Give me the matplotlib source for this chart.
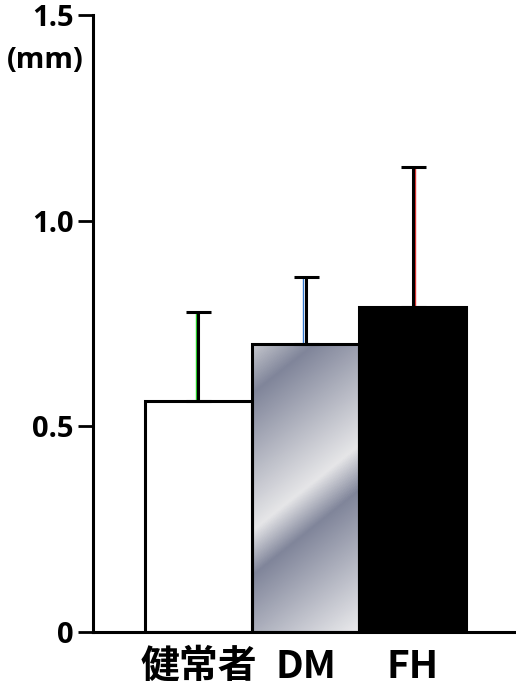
import numpy as np
import matplotlib.pyplot as plt
from matplotlib.colors import LinearSegmentedColormap

# datos
groups = ['健常者', 'DM', 'FH']
means = [0.562, 0.699, 0.791]
upper_err = [0.215, 0.164, 0.339]
err_colors = ['#22cc22', '#3377cc', '#dd3333']
yticks = [0, 0.5, 1.0, 1.5]
ytick_labels = ['0', '0.5', '1.0', '1.5']

plt.rcParams['font.family'] = ['Open Sans', 'Noto Sans CJK JP', 'DejaVu Sans']

fig = plt.figure(figsize=(5.16, 6.9), dpi=100)
ax = fig.add_axes([0.1802, 0.0841, 0.8198, 0.8942])

x = np.arange(len(groups))
bars = ax.bar(x, means, width=1.0, color=['white', 'none', 'black'],
              edgecolor='black', linewidth=2.2, zorder=2)

# barra metalica (DM) con degradado diagonal
grad = LinearSegmentedColormap.from_list('metal', [
    (0.00, '#c6c8ce'),
    (0.13, '#80859a'),
    (0.50, '#e6e6e8'),
    (0.62, '#80859a'),
    (1.00, '#ebebed'),
])
b = bars[1]
x0, w, h = b.get_x(), b.get_width(), b.get_height()
nx, ny = 107, 290
xx, yy = np.meshgrid(np.arange(nx), np.arange(ny))
t = yy + 0.81 * xx
t = t / t.max()
im = ax.imshow(t, cmap=grad, extent=(x0, x0 + w, 0, h), origin='upper',
               aspect='auto', zorder=1.5, interpolation='bilinear')
im.set_clip_path(b)

# barras de error (solo hacia arriba)
for xi, m, e, c in zip(x, means, upper_err, err_colors):
    off = 0.022 if c == '#dd3333' else -0.022
    ax.vlines(xi + off, m, m + e, color=c, linewidth=1.0, zorder=2.5)
ax.errorbar(x, means, yerr=[np.zeros(len(x)), upper_err], fmt='none',
            ecolor='black', elinewidth=2.2, capsize=9, capthick=2.2, zorder=3)

ax.set_xlim(-0.986, 2.967)
ax.set_ylim(0, 1.5)
ax.spines['top'].set_visible(False)
ax.spines['right'].set_visible(False)
for s in ['left', 'bottom']:
    ax.spines[s].set_linewidth(2.2)

ax.set_yticks(yticks)
ax.set_yticklabels(ytick_labels, fontsize=21, fontweight='bold')
ax.tick_params(axis='y', direction='out', length=11, width=2, pad=3)
ax.set_xticks(x)
ax.set_xticklabels(groups, fontsize=28, fontweight='bold',
                   family=['Noto Sans CJK JP', 'DejaVu Sans'])
ax.tick_params(axis='x', length=0, pad=11)

fig.text(84 / 516, 1 - 60 / 690, '(mm)', fontsize=21, fontweight='bold',
         ha='right', va='center')

fig.savefig('out.png', dpi=100)
